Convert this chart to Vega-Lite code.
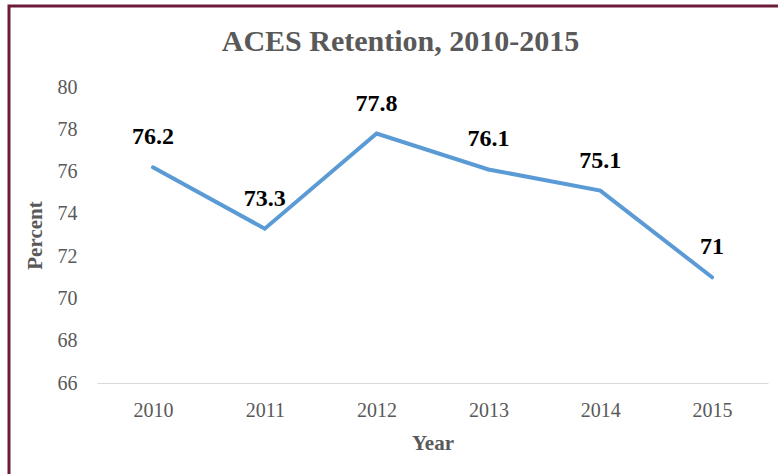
{
  "$schema": "https://vega.github.io/schema/vega-lite/v6.json",
  "autosize": {"type": "none"},
  "padding": {"left": 9, "top": 6, "right": 0, "bottom": 0},
  "width": 775,
  "height": 475,
  "background": "white",
  "title": {
    "text": "ACES Retention, 2010-2015",
    "font": "Liberation Serif",
    "fontSize": 30,
    "fontWeight": "bold",
    "color": "#595959",
    "anchor": "middle",
    "offset": 0,
    "dy": 51,
    "dx": 4
  },
  "data": {
    "values": [
      {"Year": "2010", "Percent": 76.2},
      {"Year": "2011", "Percent": 73.3},
      {"Year": "2012", "Percent": 77.8},
      {"Year": "2013", "Percent": 76.1},
      {"Year": "2014", "Percent": 75.1},
      {"Year": "2015", "Percent": 71}
    ]
  },
  "encoding": {
    "x": {
      "field": "Year",
      "type": "ordinal",
      "scale": {"type": "point", "range": [88, 759], "padding": 0.5},
      "axis": {
        "orient": "bottom",
        "offset": -98,
        "labelAngle": 0,
        "ticks": false,
        "tickSize": 0,
        "domainColor": "#d9d9d9",
        "domainWidth": 1,
        "labelFont": "Liberation Serif",
        "labelFontSize": 20,
        "labelColor": "#595959",
        "labelPadding": 17,
        "title": "Year",
        "titleFont": "Liberation Serif",
        "titleFontSize": 21,
        "titleFontWeight": "bold",
        "titleColor": "#595959",
        "titlePadding": 12,
        "grid": false
      }
    },
    "y": {
      "field": "Percent",
      "type": "quantitative",
      "scale": {"domain": [66, 80], "range": [377, 81], "nice": false, "zero": false},
      "axis": {
        "orient": "left",
        "offset": -68,
        "values": [66, 68, 70, 72, 74, 76, 78, 80],
        "domain": false,
        "ticks": false,
        "tickSize": 0,
        "grid": false,
        "labelFont": "Liberation Serif",
        "labelFontSize": 20,
        "labelColor": "#595959",
        "labelPadding": 0,
        "title": "Percent",
        "titleFont": "Liberation Serif",
        "titleFontSize": 21,
        "titleFontWeight": "bold",
        "titleColor": "#595959",
        "titlePadding": 12
      }
    }
  },
  "layer": [
    {
      "mark": {"type": "line", "color": "#5b9bd5", "strokeWidth": 4, "strokeCap": "round", "strokeJoin": "miter"}
    },
    {
      "mark": {"type": "text", "font": "Liberation Serif", "fontSize": 24, "fontWeight": "bold", "color": "#000000", "baseline": "middle", "align": "center", "dy": -30},
      "encoding": {"text": {"field": "Percent", "type": "quantitative"}}
    }
  ],
  "config": {
    "view": {"stroke": "#6d1b3b", "strokeWidth": 3, "fill": "white"}
  }
}
